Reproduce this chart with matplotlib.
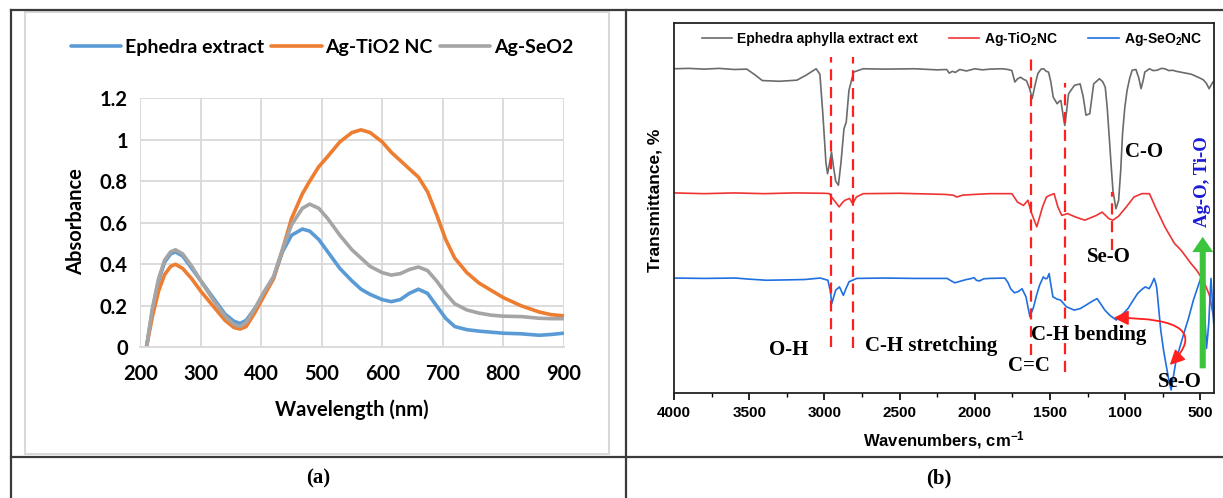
import matplotlib
matplotlib.use("Agg")
import matplotlib.pyplot as plt
from matplotlib import font_manager
from matplotlib.lines import Line2D
from matplotlib.patches import Rectangle
from matplotlib.ticker import MultipleLocator

W, H = 1223, 498

# ---- (a) UV-Vis data --------------------------------------------------------
wavelength = [210, 220, 230, 240, 250, 258, 270, 285, 300, 320, 340, 355, 365, 375,
              390, 405, 420, 435, 450, 468, 480, 495, 510, 530, 550, 565, 580, 600,
              615, 630, 645, 660, 675, 690, 705, 720, 740, 760, 780, 800, 830, 860,
              880, 900]
abs_extract = [0.0, 0.18, 0.32, 0.41, 0.45, 0.46, 0.44, 0.38, 0.32, 0.24, 0.16, 0.125,
               0.115, 0.13, 0.19, 0.26, 0.33, 0.46, 0.54, 0.57, 0.56, 0.52, 0.46, 0.38,
               0.32, 0.28, 0.255, 0.23, 0.22, 0.23, 0.26, 0.28, 0.26, 0.20, 0.14, 0.10,
               0.085, 0.078, 0.073, 0.068, 0.065, 0.058, 0.062, 0.068]
abs_tio2 = [0.0, 0.15, 0.27, 0.35, 0.39, 0.40, 0.38, 0.33, 0.27, 0.20, 0.13, 0.095,
            0.088, 0.10, 0.17, 0.25, 0.33, 0.47, 0.62, 0.74, 0.80, 0.87, 0.92, 0.99,
            1.035, 1.048, 1.035, 0.99, 0.94, 0.90, 0.86, 0.82, 0.75, 0.64, 0.52, 0.43,
            0.36, 0.31, 0.275, 0.24, 0.20, 0.17, 0.157, 0.152]
abs_seo2 = [0.0, 0.19, 0.33, 0.42, 0.46, 0.47, 0.45, 0.39, 0.32, 0.23, 0.15, 0.11,
            0.10, 0.12, 0.19, 0.27, 0.34, 0.47, 0.59, 0.67, 0.69, 0.67, 0.62, 0.54,
            0.47, 0.43, 0.39, 0.36, 0.348, 0.355, 0.375, 0.387, 0.37, 0.32, 0.26, 0.21,
            0.18, 0.165, 0.155, 0.15, 0.148, 0.14, 0.138, 0.138]
uv_labels = ["Ephedra extract", "Ag-TiO2 NC", "Ag-SeO2"]

# ---- (b) FTIR data ----------------------------------------------------------
wn_extract = [4000, 3900, 3800, 3700, 3600, 3516, 3460, 3413, 3300, 3183, 3120, 3055,
              3030, 3010, 2990, 2979, 2965, 2953, 2940, 2925, 2907, 2890, 2870, 2855,
              2837, 2806, 2742, 2600, 2400, 2250, 2187, 2170, 2150, 2130, 2100, 2056,
              2000, 1950, 1900, 1820, 1780, 1754, 1734, 1715, 1696, 1675, 1657, 1635,
              1619, 1600, 1581, 1560, 1543, 1525, 1510, 1495, 1479, 1453, 1440, 1428,
              1410, 1402, 1390, 1377, 1338, 1300, 1280, 1261, 1236, 1210, 1172, 1150,
              1133, 1120, 1108, 1095, 1082, 1062, 1044, 1030, 1018, 1003, 988, 970,
              954, 929, 910, 895, 880, 870, 839, 815, 788, 760, 737, 710, 686, 660,
              634, 610, 583, 560, 532, 505, 481, 460, 443, 430, 417]
t_extract = [87.5, 87.6, 87.4, 87.6, 87.3, 87.4, 85.8, 84.3, 84.1, 84.4, 85.8, 87.5,
             86.0, 75.0, 62.0, 59.0, 62.0, 64.9, 61.0, 57.0, 55.9, 62.0, 71.2, 73.0,
             81.6, 86.6, 87.5, 87.4, 87.5, 87.2, 87.3, 86.3, 86.8, 86.5, 87.3, 86.9,
             87.5, 87.2, 87.4, 87.5, 87.3, 87.0, 83.9, 84.8, 85.2, 84.6, 84.3, 82.0,
             79.4, 83.0, 86.2, 87.4, 87.5, 86.8, 86.6, 84.0, 79.8, 78.0, 78.6, 78.9,
             74.0, 72.1, 76.0, 80.7, 83.0, 83.4, 80.0, 74.9, 75.3, 83.4, 84.8, 84.0,
             82.5, 77.0, 69.9, 62.0, 54.5, 49.5, 51.8, 60.0, 69.9, 77.0, 81.6, 85.0,
             87.1, 87.3, 85.0, 82.1, 84.5, 86.6, 87.5, 87.0, 87.1, 87.6, 87.5, 87.0,
             87.1, 86.8, 86.6, 86.4, 86.2, 86.0, 85.5, 85.0, 84.5, 83.5, 82.1, 83.0,
             83.9]

wn_tio2 = [4000, 3800, 3600, 3400, 3200, 3000, 2966, 2953, 2930, 2902, 2880, 2864,
           2833, 2812, 2787, 2742, 2500, 2200, 2145, 2120, 2080, 2000, 1900, 1754,
           1716, 1677, 1647, 1622, 1588, 1550, 1524, 1499, 1473, 1448, 1422, 1384,
           1333, 1269, 1192, 1154, 1108, 1082, 1044, 993, 942, 890, 839, 800, 737,
           673, 628, 560, 525, 480, 440, 412]
t_tio2 = [53.8, 53.6, 53.8, 53.6, 53.8, 53.7, 53.6, 52.7, 51.5, 50.0, 51.2, 51.8,
          52.3, 50.9, 52.7, 53.6, 53.7, 53.4, 53.2, 52.7, 53.2, 53.4, 53.6, 53.6,
          51.3, 50.4, 51.8, 48.2, 44.6, 50.0, 52.7, 53.2, 53.6, 50.0, 47.7, 48.2,
          47.3, 46.4, 47.7, 48.6, 46.8, 46.4, 47.5, 50.0, 52.7, 53.6, 53.6, 50.0,
          44.6, 40.1, 38.2, 34.5, 32.8, 30.0, 26.0, 20.0]

wn_seo2 = [4000, 3800, 3591, 3500, 3386, 3250, 3130, 3028, 2977, 2960, 2951, 2935,
           2925, 2900, 2874, 2855, 2836, 2785, 2600, 2400, 2184, 2160, 2133, 2100,
           2056, 2030, 2005, 1990, 1970, 1940, 1900, 1801, 1780, 1762, 1737, 1712,
           1686, 1660, 1634, 1609, 1590, 1570, 1545, 1530, 1519, 1506, 1495, 1481,
           1455, 1430, 1391, 1340, 1300, 1263, 1220, 1187, 1160, 1136, 1100, 1059,
           1020, 982, 950, 918, 890, 867, 841, 825, 808, 795, 790, 764, 745, 726,
           710, 695, 680, 662, 640, 611, 580, 547, 520, 495, 480, 475, 468, 460,
           452, 445, 437, 430, 420, 412]
t_seo2 = [30.7, 30.6, 30.7, 30.4, 30.1, 30.2, 30.3, 30.7, 30.1, 27.0, 23.8, 26.0,
          27.4, 28.3, 26.0, 28.0, 29.7, 30.6, 30.7, 30.6, 30.6, 30.0, 29.4, 29.8,
          30.3, 30.5, 30.8, 30.1, 29.9, 30.5, 30.6, 30.7, 29.5, 27.8, 26.7, 27.0,
          27.8, 25.6, 20.2, 22.9, 26.0, 28.7, 31.0, 30.5, 30.6, 31.9, 29.0, 25.6,
          25.0, 24.7, 22.9, 22.0, 22.4, 23.3, 24.4, 25.1, 23.5, 22.0, 20.5, 19.3,
          20.8, 22.4, 24.5, 26.5, 27.6, 28.3, 27.8, 29.0, 30.6, 29.0, 27.8, 16.5,
          11.0, 6.6, 3.0, 0.3, 4.0, 8.4, 11.5, 15.6, 19.7, 24.7, 28.0, 31.0, 27.0,
          24.7, 18.0, 11.6, 15.0, 18.4, 25.0, 30.6, 24.0, 18.4]
ftir_labels = ["Ephedra aphylla extract ext", "Ag-TiO$_2$NC", "Ag-SeO$_2$NC"]

# band markers: wavenumber, top and bottom of dashed line
band_wn = [2953, 2813, 1629, 1402, 1088]
band_top = [90.7, 90.7, 90.3, 83.5, 54.0]
band_bottom = [12.0, 11.7, 9.8, 5.2, 38.2]

# band labels: text, wavenumber, transmittance
band_text = ["O-H", "C-H stretching", "C=C", "C-H bending", "Se-O", "Se-O", "C-O"]
band_text_wn = [3236, 2289, 1641, 1246, 640, 1110, 878]
band_text_t = [11.1, 12.2, 6.8, 15.2, 2.5, 36.4, 64.9]

# ---- fonts --------------------------------------------------------------------
installed = {f.name for f in font_manager.fontManager.ttflist}
narrow = "Liberation Sans Narrow" if "Liberation Sans Narrow" in installed else "Liberation Sans"
plt.rcParams["mathtext.fontset"] = "custom"
plt.rcParams["mathtext.rm"] = narrow + ":bold"
plt.rcParams["mathtext.bf"] = narrow + ":bold"
plt.rcParams["mathtext.default"] = "bf"

def fx(x):
    return x / W

def fy(y):
    return 1 - y / H

fig = plt.figure(figsize=(W / 100, H / 100), dpi=100)

# ---- table frame ----------------------------------------------------------------
frame_kw = dict(color="#3a3a3a", lw=1.6, transform=fig.transFigure)
fig.add_artist(Line2D([fx(11), 1], [fy(10), fy(10)], **frame_kw))
fig.add_artist(Line2D([fx(11), fx(11)], [fy(10), 0], **frame_kw))
fig.add_artist(Line2D([fx(625.7), fx(625.7)], [fy(10), 0], **frame_kw))
fig.add_artist(Line2D([fx(11), 1], [fy(456.7), fy(456.7)], **frame_kw))
fig.add_artist(Rectangle((fx(25), fy(454)), fx(609 - 25), (454 - 12) / H,
                         transform=fig.transFigure, fill=False,
                         edgecolor="#d9d9d9", lw=1.5))

# ---- (a) UV-Vis -------------------------------------------------------------------
uv_font = "Lato"
uv_size = 14.5
ax = fig.add_axes([fx(140.4), fy(347.3), fx(423.1), 249 / H])
uv_colors = ["#5b9bd5", "#ed7d31", "#a5a5a5"]
for y, c, lab in zip([abs_extract, abs_tio2, abs_seo2], uv_colors, uv_labels):
    ax.plot(wavelength, y, color=c, lw=2.6, label=lab, solid_capstyle="round")
ax.set_xlim(200, 900)
ax.set_ylim(0, 1.2)
ax.set_xticks(range(200, 901, 100))
ax.set_yticks([0, 0.2, 0.4, 0.6, 0.8, 1.0, 1.2])
ax.set_yticklabels(["0", "0.2", "0.4", "0.6", "0.8", "1", "1.2"])
ax.grid(True, color="#d9d9d9", lw=1.3)
ax.set_axisbelow(True)
for s in ["top", "right", "left"]:
    ax.spines[s].set_visible(False)
ax.spines["bottom"].set_color("#d9d9d9")
ax.spines["bottom"].set_linewidth(1.3)
ax.tick_params(length=0, labelsize=uv_size)
ax.tick_params(axis="x", pad=12)
ax.tick_params(axis="y", pad=9)
for t in ax.get_xticklabels() + ax.get_yticklabels():
    t.set_fontfamily(uv_font)
    t.set_fontweight("bold")
fig.text(fx(76), fy(222), "Absorbance", rotation=90, ha="center", va="center",
         fontsize=uv_size, fontweight="bold", family=uv_font)
fig.text(fx(352), fy(410), "Wavelength (nm)", ha="center", va="center",
         fontsize=uv_size, fontweight="bold", family=uv_font)
h, l = ax.get_legend_handles_labels()
fig.legend(h, l, loc="center", bbox_to_anchor=(fx(322), fy(47)), ncol=3,
           frameon=False, handlelength=2.6, handletextpad=0.2, columnspacing=0.35,
           prop=dict(family=uv_font, weight="bold", size=14))

# ---- (b) FTIR ------------------------------------------------------------------------
bx = fig.add_axes([fx(674), fy(393), fx(540), 370.3 / H])
bx.plot(wn_extract, t_extract, color="#6b6b6b", lw=1.2, label=ftir_labels[0])
bx.plot(wn_tio2, t_tio2, color="#ef3333", lw=1.2, label=ftir_labels[1])
bx.plot(wn_seo2, t_seo2, color="#1f6fe0", lw=1.2, label=ftir_labels[2])
bx.set_xlim(4000, 410)
bx.set_ylim(-0.5, 100)
bx.set_yticks([])
bx.xaxis.set_major_locator(MultipleLocator(500))
bx.xaxis.set_minor_locator(MultipleLocator(250))
bx.tick_params(axis="x", which="major", direction="out", length=5, width=1.2,
               labelsize=11, pad=4)
bx.tick_params(axis="x", which="minor", direction="out", length=3, width=1.0)
for t in bx.get_xticklabels():
    t.set_fontfamily(narrow)
    t.set_fontweight("bold")
for s in bx.spines.values():
    s.set_linewidth(1.3)
    s.set_color("#222222")

bx.vlines(band_wn, band_bottom, band_top, colors="#ff1f1f", lw=1.6,
          linestyles=(0, (5, 3)))
for txt, xw, yt in zip(band_text, band_text_wn, band_text_t):
    bx.text(xw, yt, txt, ha="center", va="center", fontsize=15, fontweight="bold",
            family="Liberation Serif", clip_on=False)
bx.text(485, 56.8, "Ag-O, Ti-O", rotation=90, ha="center", va="center", fontsize=13.5,
        fontweight="bold", family="Liberation Serif", color="#1b1bd6")
bx.annotate("", xy=(485, 41.9), xytext=(485, 6.2),
            arrowprops=dict(arrowstyle="simple,head_length=0.55,head_width=0.75,tail_width=0.22",
                            mutation_scale=20, color="#3cc43c", lw=0, shrinkA=0, shrinkB=0))
bx.annotate("", xy=(1077, 19.9), xytext=(704, 7.1),
            arrowprops=dict(arrowstyle="<|-|>", connectionstyle="angle3,angleA=45,angleB=0",
                            mutation_scale=22, color="#ff1f1f", lw=1.3,
                            shrinkA=0, shrinkB=0))

bx.legend(loc="center", bbox_to_anchor=(0.515, (393 - 39) / 370.3), ncol=3,
          frameon=False, handlelength=2.2, handletextpad=0.35, columnspacing=2.2,
          prop=dict(family=narrow, weight="bold", size=10))
fig.text(fx(655), fy(200), "Transmittance, %", rotation=90, ha="center", va="center",
         fontsize=12.5, fontweight="bold", family="Liberation Sans")
fig.text(fx(944), fy(440), "Wavenumbers, cm$^{-1}$", ha="center", va="center",
         fontsize=12, fontweight="bold", family=narrow)

# ---- panel captions ----------------------------------------------------------------------
fig.text(fx(318), fy(478), "(a)", ha="center", va="center", fontsize=15,
         fontweight="bold", family="Liberation Serif")
fig.text(fx(939), fy(478), "(b)", ha="center", va="center", fontsize=15,
         fontweight="bold", family="Liberation Serif")

fig.savefig("out.png", dpi=100)
